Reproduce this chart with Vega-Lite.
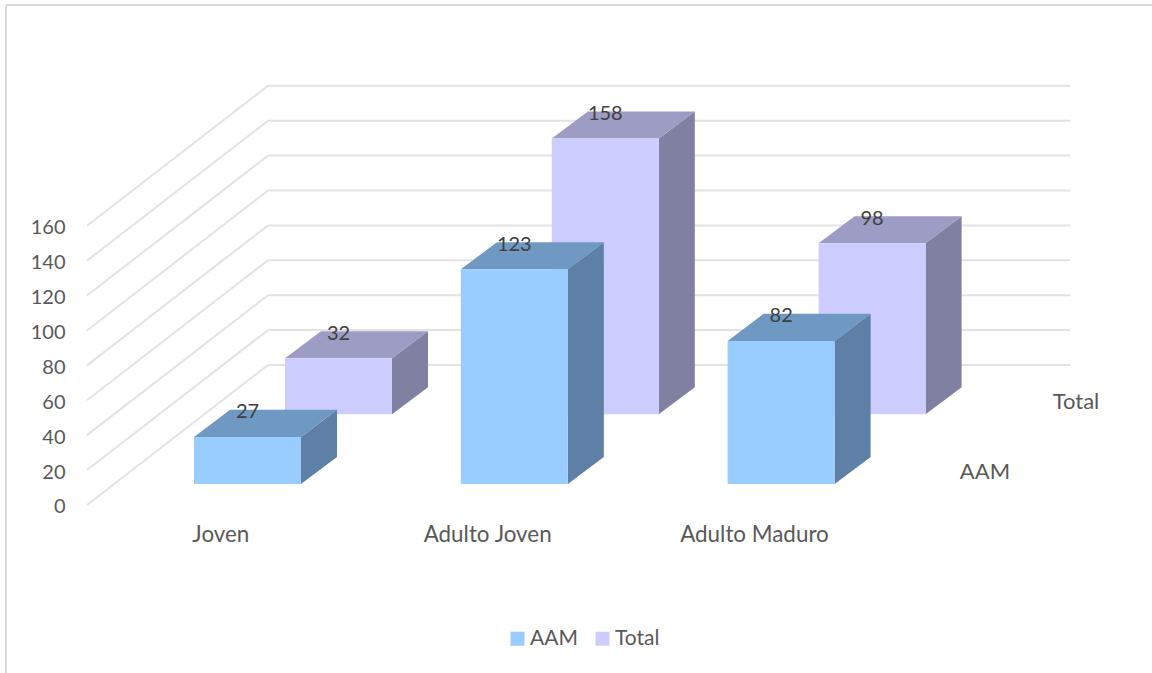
{
  "$schema": "https://vega.github.io/schema/vega-lite/v6.json",
  "width": 1146,
  "height": 668,
  "padding": {"left": 6, "top": 5, "right": 0, "bottom": 0},
  "autosize": "none",
  "background": "white",
  "config": {
    "view": {"stroke": null},
    "font": "Lato"
  },
  "datasets": {
    "barras": [
      {"categoria": "Joven", "serie": "AAM", "valor": 27},
      {"categoria": "Adulto Joven", "serie": "AAM", "valor": 123},
      {"categoria": "Adulto Maduro", "serie": "AAM", "valor": 82},
      {"categoria": "Joven", "serie": "Total", "valor": 32},
      {"categoria": "Adulto Joven", "serie": "Total", "valor": 158},
      {"categoria": "Adulto Maduro", "serie": "Total", "valor": 98}
    ],
    "niveles": [
      {"nivel": 0}, {"nivel": 20}, {"nivel": 40}, {"nivel": 60}, {"nivel": 80},
      {"nivel": 100}, {"nivel": 120}, {"nivel": 140}, {"nivel": 160}
    ],
    "categorias": [
      {"categoria": "Joven"}, {"categoria": "Adulto Joven"}, {"categoria": "Adulto Maduro"}
    ],
    "series": [
      {"serie": "AAM"}, {"serie": "Total"}
    ],
    "marco": [
      {"borde": "frame"}
    ]
  },
  "data": {"name": "barras"},
  "transform": [
    {"calculate": "indexof(['Joven','Adulto Joven','Adulto Maduro'], datum.categoria)", "as": "slot"},
    {"calculate": "datum.serie === 'Total' ? 1 : 0", "as": "fondo"},
    {"calculate": "datum.slot + datum.fondo * 0.341", "as": "centro"},
    {"calculate": "12 + datum.fondo * 40", "as": "base"},
    {"calculate": "datum.base + datum.valor", "as": "cima"},
    {"calculate": "[0, 1]", "as": "t"},
    {"flatten": ["t"]}
  ],
  "encoding": {
    "x": {
      "field": "x0",
      "type": "quantitative",
      "scale": {"domain": [-0.9052, 3.39], "nice": false, "zero": false},
      "axis": null
    },
    "y": {
      "field": "y0",
      "type": "quantitative",
      "scale": {"domain": [-96.3, 286.5], "nice": false, "zero": false},
      "axis": {
        "title": null,
        "values": [0, 20, 40, 60, 80, 100, 120, 140, 160],
        "offset": -59,
        "domain": false,
        "ticks": false,
        "grid": false,
        "labelPadding": 0,
        "labelOffset": 2,
        "labelFontSize": 20,
        "labelColor": "#595959"
      }
    }
  },
  "layer": [
    {
      "data": {"name": "marco"},
      "transform": [
        {"calculate": "-0.9052", "as": "x0"},
        {"calculate": "-96.3", "as": "y0"},
        {"calculate": "286.5", "as": "y1"}
      ],
      "mark": {"type": "rule", "color": "#d9d9d9", "strokeWidth": 2},
      "encoding": {"y2": {"field": "y1"}}
    },
    {
      "data": {"name": "marco"},
      "transform": [
        {"calculate": "-0.9052", "as": "x0"},
        {"calculate": "3.39", "as": "x1"},
        {"calculate": "286.5", "as": "y0"}
      ],
      "mark": {"type": "rule", "color": "#d9d9d9", "strokeWidth": 2},
      "encoding": {"x2": {"field": "x1"}}
    },
    {
      "data": {"name": "niveles"},
      "transform": [
        {"calculate": "-0.6016", "as": "x0"},
        {"calculate": "0.0768", "as": "x1"},
        {"calculate": "datum.nivel", "as": "y0"},
        {"calculate": "datum.nivel + 80.2", "as": "y1"}
      ],
      "mark": {"type": "rule", "color": "#e3e3e3", "strokeWidth": 2},
      "encoding": {"x2": {"field": "x1"}, "y2": {"field": "y1"}}
    },
    {
      "data": {"name": "niveles"},
      "transform": [
        {"calculate": "0.0768", "as": "x0"},
        {"calculate": "3.083", "as": "x1"},
        {"calculate": "datum.nivel + 80.2", "as": "y0"},
        {"calculate": "datum.nivel + 80.2", "as": "y1"}
      ],
      "mark": {"type": "rule", "color": "#e3e3e3", "strokeWidth": 2},
      "encoding": {"x2": {"field": "x1"}, "y2": {"field": "y1"}}
    },
    {
      "transform": [
        {"filter": "datum.serie === 'Total'"},
        {"calculate": "datum.centro + 0.2005 + datum.t * 0.135", "as": "x0"},
        {"calculate": "datum.cima + datum.t * 15.5", "as": "y0"},
        {"calculate": "datum.base + datum.t * 15.5", "as": "y1"}
      ],
      "mark": {"type": "area", "color": "#8080a3", "orient": "vertical"},
      "encoding": {"y2": {"field": "y1"}, "detail": {"field": "categoria"}}
    },
    {
      "transform": [
        {"filter": "datum.serie === 'Total'"},
        {"calculate": "datum.centro - 0.2005 + datum.t * 0.135", "as": "x0"},
        {"calculate": "datum.centro + 0.2005 + datum.t * 0.135", "as": "x1"},
        {"calculate": "datum.cima + datum.t * 15.5", "as": "y0"}
      ],
      "mark": {"type": "area", "color": "#9c9cc4", "orient": "horizontal"},
      "encoding": {"x2": {"field": "x1"}, "detail": {"field": "categoria"}}
    },
    {
      "transform": [
        {"filter": "datum.serie === 'Total' && datum.t === 0"},
        {"calculate": "datum.centro - 0.2005", "as": "x0"},
        {"calculate": "datum.centro + 0.2005", "as": "x1"},
        {"calculate": "datum.cima", "as": "y0"},
        {"calculate": "datum.base", "as": "y1"}
      ],
      "mark": {"type": "rect"},
      "encoding": {
        "x2": {"field": "x1"},
        "y2": {"field": "y1"},
        "color": {
          "field": "serie",
          "type": "nominal",
          "scale": {"domain": ["AAM", "Total"], "range": ["#99ccff", "#ccccff"]},
          "legend": {
            "title": null,
            "orient": "none",
            "direction": "horizontal",
            "legendX": 501,
            "legendY": 623,
            "symbolType": "square",
            "symbolSize": 196,
            "symbolStrokeWidth": 0,
            "labelFontSize": 21,
            "labelColor": "#595959",
            "columnPadding": 14,
            "labelOffset": 2
          }
        }
      }
    },
    {
      "transform": [
        {"filter": "datum.serie === 'AAM'"},
        {"calculate": "datum.centro + 0.2005 + datum.t * 0.135", "as": "x0"},
        {"calculate": "datum.cima + datum.t * 15.5", "as": "y0"},
        {"calculate": "datum.base + datum.t * 15.5", "as": "y1"}
      ],
      "mark": {"type": "area", "color": "#5f80a6", "orient": "vertical"},
      "encoding": {"y2": {"field": "y1"}, "detail": {"field": "categoria"}}
    },
    {
      "transform": [
        {"filter": "datum.serie === 'AAM'"},
        {"calculate": "datum.centro - 0.2005 + datum.t * 0.135", "as": "x0"},
        {"calculate": "datum.centro + 0.2005 + datum.t * 0.135", "as": "x1"},
        {"calculate": "datum.cima + datum.t * 15.5", "as": "y0"}
      ],
      "mark": {"type": "area", "color": "#6f99c2", "orient": "horizontal"},
      "encoding": {"x2": {"field": "x1"}, "detail": {"field": "categoria"}}
    },
    {
      "transform": [
        {"filter": "datum.serie === 'AAM' && datum.t === 0"},
        {"calculate": "datum.centro - 0.2005", "as": "x0"},
        {"calculate": "datum.centro + 0.2005", "as": "x1"},
        {"calculate": "datum.cima", "as": "y0"},
        {"calculate": "datum.base", "as": "y1"}
      ],
      "mark": {"type": "rect"},
      "encoding": {
        "x2": {"field": "x1"},
        "y2": {"field": "y1"},
        "color": {"field": "serie", "type": "nominal"}
      }
    },
    {
      "transform": [
        {"filter": "datum.t === 0"},
        {"calculate": "datum.centro", "as": "x0"},
        {"calculate": "datum.cima + 14", "as": "y0"}
      ],
      "mark": {"type": "text", "fontSize": 20, "color": "#404040", "align": "center", "baseline": "middle"},
      "encoding": {"text": {"field": "valor", "type": "quantitative"}}
    },
    {
      "data": {"name": "categorias"},
      "transform": [
        {"calculate": "indexof(['Joven','Adulto Joven','Adulto Maduro'], datum.categoria) - 0.1", "as": "x0"},
        {"calculate": "-17.4", "as": "y0"}
      ],
      "mark": {"type": "text", "fontSize": 22.4, "color": "#595959", "align": "center", "baseline": "middle"},
      "encoding": {"text": {"field": "categoria", "type": "nominal"}}
    },
    {
      "data": {"name": "series"},
      "transform": [
        {"calculate": "datum.serie === 'Total' ? 1 : 0", "as": "fondo"},
        {"calculate": "2.764 + datum.fondo * 0.341", "as": "x0"},
        {"calculate": "19 + datum.fondo * 40", "as": "y0"}
      ],
      "mark": {"type": "text", "fontSize": 22, "color": "#595959", "align": "center", "baseline": "middle"},
      "encoding": {"text": {"field": "serie", "type": "nominal"}}
    }
  ]
}
